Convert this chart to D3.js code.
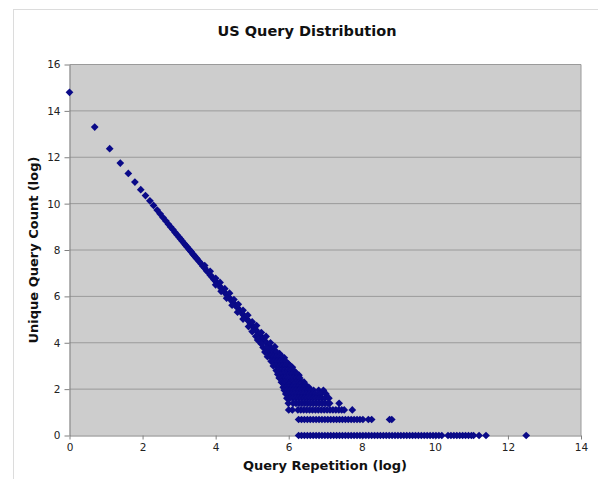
<!DOCTYPE html>
<html>
<head>
<meta charset="utf-8">
<script src="https://cdn.jsdelivr.net/npm/d3@7"></script>
<style>
  body { margin: 0; background: #fff; }
  svg { display: block; font-family: "DejaVu Sans", Verdana, sans-serif; }
</style>
</head>
<body>
<svg id="chart" width="598" height="479"></svg>
<script>
// Axis ticks
const xTicks = [0, 2, 4, 6, 8, 10, 12, 14];
const yTicks = [0, 2, 4, 6, 8, 10, 12, 14, 16];

// Head of the distribution (single points, then the thin diagonal)
const headX = [0, 0.69, 1.10, 1.39, 1.61, 1.79, 1.95, 2.08, 2.20, 2.30, 2.40, 2.48, 2.56, 2.64, 2.71, 2.77, 2.83, 2.89, 2.94, 3.00,
  3.04, 3.09, 3.14, 3.18, 3.22, 3.26, 3.30, 3.33, 3.37, 3.40, 3.43, 3.47, 3.50, 3.55, 3.60, 3.65, 3.70, 3.75, 3.80, 3.85,
  3.90, 3.95, 4.00, 4.05, 4.10, 4.15, 4.20, 4.25, 4.30, 4.35, 4.40, 4.45, 4.50, 4.55, 4.60, 4.65, 4.70, 4.75, 4.80, 4.85,
  4.90, 4.95, 5.00, 5.05, 5.10, 5.15, 5.20, 5.25, 5.30, 5.35, 5.40, 5.45, 5.50, 5.55, 5.60, 5.65, 5.70];
const headY = [14.8, 13.3, 12.37, 11.75, 11.3, 10.93, 10.6, 10.35, 10.12, 9.92, 9.72, 9.56, 9.40, 9.25, 9.11, 8.99, 8.88, 8.76, 8.66, 8.55,
  8.47, 8.38, 8.28, 8.20, 8.13, 8.05, 7.98, 7.92, 7.84, 7.78, 7.73, 7.65, 7.60, 7.50, 7.41, 7.30, 7.22, 7.11, 7.03, 6.92,
  6.84, 6.73, 6.65, 6.54, 6.46, 6.35, 6.27, 6.16, 6.08, 5.97, 5.89, 5.78, 5.70, 5.59, 5.51, 5.40, 5.32, 5.21, 5.13, 5.02,
  4.94, 4.83, 4.75, 4.64, 4.56, 4.45, 4.37, 4.26, 4.18, 4.07, 3.99, 3.88, 3.80, 3.69, 3.61, 3.50, 3.42];

// Upper edge of the scattered band
const upperX = [3.70, 3.85, 4.00, 4.12, 4.25, 4.38, 4.50, 4.62, 4.75, 4.88, 5.00, 5.12, 5.25, 5.38, 5.50, 5.62, 5.75, 5.88, 6.00, 6.10, 6.20, 6.28];
const upperY = [7.33, 7.08, 6.78, 6.60, 6.33, 6.14, 5.86, 5.66, 5.40, 5.19, 4.90, 4.74, 4.44, 4.27, 4.00, 3.83, 3.53, 3.35, 3.08, 2.94, 2.70, 2.60];

// Lower edge of the scattered band
const lowerX = [4.00, 4.15, 4.30, 4.45, 4.60, 4.75, 4.90, 5.00, 5.10, 5.20, 5.30, 5.15, 5.25, 5.40];
const lowerY = [6.50, 6.22, 5.92, 5.62, 5.32, 5.02, 4.70, 4.48, 4.28, 4.05, 3.80, 4.12, 3.95, 3.78];

// Horizontal rows of the tail: y level and the x positions on it
const levelY = [3.6, 3.4, 3.2, 3.0, 2.8, 2.64, 2.48, 2.30, 2.20, 2.08, 1.95, 1.79, 1.61, 1.39, 1.10, 0.69, 0];
const levelX = [
  [5.35, 5.43, 5.51, 5.59, 5.67],
  [5.42, 5.50, 5.58, 5.66, 5.74, 5.82],
  [5.52, 5.60, 5.68, 5.76, 5.84, 5.92],
  [5.58, 5.66, 5.74, 5.82, 5.90, 5.98, 6.04],
  [5.66, 5.74, 5.82, 5.90, 5.98, 6.06, 6.14],
  [5.70, 5.78, 5.86, 5.94, 6.02, 6.10, 6.18, 6.24],
  [5.74, 5.82, 5.90, 5.98, 6.06, 6.14, 6.22, 6.30],
  [5.80, 5.88, 5.96, 6.04, 6.12, 6.20, 6.28, 6.36, 6.42],
  [5.87, 6.00, 6.15, 6.30, 6.45],
  [5.85, 5.93, 6.01, 6.09, 6.17, 6.25, 6.33, 6.41, 6.49, 6.55],
  [5.88, 5.96, 6.04, 6.12, 6.20, 6.28, 6.36, 6.44, 6.52, 6.60, 6.68, 6.82, 6.95],
  [5.92, 6.00, 6.08, 6.16, 6.24, 6.32, 6.40, 6.48, 6.56, 6.64, 6.72, 6.80, 6.88, 7.02],
  [5.95, 6.03, 6.11, 6.19, 6.27, 6.35, 6.43, 6.51, 6.59, 6.67, 6.75, 6.83, 6.91, 6.99, 7.10],
  [5.99, 6.12, 6.20, 6.28, 6.36, 6.44, 6.52, 6.60, 6.68, 6.76, 6.84, 6.92, 7.00, 7.08, 7.12, 7.38],
  [6.00, 6.10, 6.25, 6.33, 6.41, 6.49, 6.57, 6.65, 6.73, 6.81, 6.89, 6.97, 7.05, 7.13, 7.21, 7.29, 7.37, 7.45, 7.52, 7.74],
  [6.27, 6.35, 6.43, 6.51, 6.59, 6.67, 6.75, 6.83, 6.91, 6.99, 7.07, 7.15, 7.23, 7.31, 7.39, 7.47, 7.55, 7.63, 7.71, 7.79,
   7.87, 7.95, 8.03, 8.18, 8.27, 8.76, 8.82],
  [6.27, 6.35, 6.43, 6.51, 6.59, 6.67, 6.75, 6.83, 6.91, 6.99, 7.07, 7.15, 7.23, 7.31, 7.39, 7.47, 7.55, 7.63, 7.71, 7.79,
   7.87, 7.95, 8.03, 8.11, 8.19, 8.27, 8.35, 8.43, 8.51, 8.59, 8.67, 8.75, 8.83, 8.91, 8.99, 9.07, 9.15, 9.23, 9.31, 9.39,
   9.47, 9.55, 9.63, 9.71, 9.79, 9.87, 9.95, 10.03, 10.11, 10.19, 10.36, 10.44, 10.52, 10.60, 10.68, 10.76, 10.84, 10.92,
   11.00, 11.06, 11.21, 11.40, 12.50]
];

// build one point list
const points = [];
headX.forEach((v, i) => points.push({x: v, y: headY[i]}));
upperX.forEach((v, i) => points.push({x: v, y: upperY[i]}));
lowerX.forEach((v, i) => points.push({x: v, y: lowerY[i]}));
levelY.forEach((ly, i) => levelX[i].forEach(v => points.push({x: v, y: ly})));

const svg = d3.select("#chart");

// outer chart frame
svg.append("rect")
   .attr("x", 13.5).attr("y", 9.5)
   .attr("width", 600).attr("height", 500)
   .attr("fill", "none")
   .attr("stroke", "#dcdcdc");

const x = d3.scaleLinear().domain([0, 14]).range([69.5, 581]);
const y = d3.scaleLinear().domain([0, 16]).range([435.5, 64.5]);

// plot area
svg.append("rect")
   .attr("x", x(0)).attr("y", y(16))
   .attr("width", x(14) - x(0)).attr("height", y(0) - y(16))
   .attr("fill", "#cdcdcd");

// gridlines
svg.append("g")
   .selectAll("line")
   .data(yTicks.filter(d => d > 0))
   .enter()
   .append("line")
   .attr("x1", x(0)).attr("x2", x(14))
   .attr("y1", d => y(d)).attr("y2", d => y(d))
   .attr("stroke", "#9a9a9a");

// right border
svg.append("line")
   .attr("x1", x(14)).attr("x2", x(14))
   .attr("y1", y(16)).attr("y2", y(0))
   .attr("stroke", "#9a9a9a");

// axes
const xAxis = svg.append("g")
   .attr("transform", `translate(0,${y(0)})`)
   .call(d3.axisBottom(x).tickValues(xTicks).tickSize(4).tickSizeOuter(0).tickPadding(4));

const yAxis = svg.append("g")
   .attr("transform", `translate(${x(0)},0)`)
   .call(d3.axisLeft(y).tickValues(yTicks).tickSize(5).tickSizeOuter(0).tickPadding(4));

[xAxis, yAxis].forEach(a => {
  a.select(".domain").attr("stroke", "#808080");
  a.selectAll(".tick line").attr("stroke", "#808080");
  a.selectAll(".tick text")
   .attr("fill", "#222")
   .style("font-size", "10.5px")
   .style("font-family", "'DejaVu Sans', Verdana, sans-serif");
});

// points
const diamond = d3.symbol().type(d3.symbolSquare).size(30);
svg.append("g")
   .selectAll("path")
   .data(points)
   .enter()
   .append("path")
   .attr("d", diamond)
   .attr("transform", d => `translate(${x(d.x)},${y(d.y)}) rotate(45)`)
   .attr("fill", "#0a0a88");

// titles
svg.append("text")
   .attr("x", 307).attr("y", 36)
   .attr("text-anchor", "middle")
   .style("font-size", "14.5px")
   .style("font-weight", "bold")
   .attr("fill", "#111")
   .text("US Query Distribution");

svg.append("text")
   .attr("x", 325).attr("y", 470)
   .attr("text-anchor", "middle")
   .style("font-size", "13px")
   .style("font-weight", "bold")
   .attr("fill", "#111")
   .text("Query Repetition (log)");

svg.append("text")
   .attr("transform", "translate(38,250) rotate(-90)")
   .attr("text-anchor", "middle")
   .style("font-size", "13px")
   .style("font-weight", "bold")
   .attr("fill", "#111")
   .text("Unique Query Count (log)");
</script>
</body>
</html>
